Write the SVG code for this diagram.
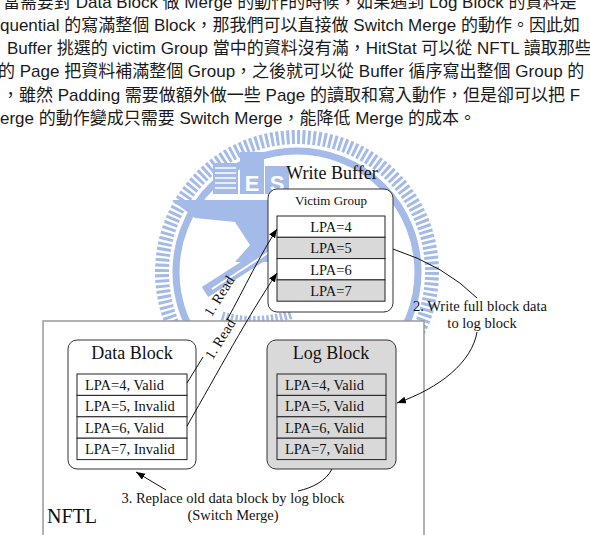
<svg xmlns="http://www.w3.org/2000/svg" width="590" height="535" viewBox="0 0 590 535">
<style>
.para{font-family:"Liberation Sans","Noto Sans CJK TC",sans-serif;font-size:17px;fill:#1a1a1a}
.serif{font-family:"Liberation Serif","Times New Roman",serif;fill:#111}
.t18{font-size:18px}
.t14{font-size:14.5px}
.t13{font-size:13px}
.box{fill:#fff;stroke:#333;stroke-width:1}
.gbox{fill:#d9d9d9;stroke:#333;stroke-width:1}
.row{fill:#fff;stroke:#222;stroke-width:1}
.grow{fill:#d9d9d9;stroke:#222;stroke-width:1}
.edge{fill:none;stroke:#111;stroke-width:1}
.wm{fill:#a4bae8}
.wms{fill:none;stroke:#a4bae8}
</style>
<defs>
<marker id="arr" markerUnits="userSpaceOnUse" markerWidth="10" markerHeight="8" refX="9" refY="3.5" orient="auto">
<path d="M0,0 L9,3.5 L0,7 z" fill="#000"/>
</marker>
</defs>
<rect width="590" height="535" fill="#fff"/>
<g id="watermark">
<circle class="wms" cx="297" cy="272" r="135" stroke-width="14" stroke-dasharray="3 2.3"/>
<circle class="wms" cx="297" cy="272" r="121" stroke-width="7"/>
<rect class="wm" x="213" y="163" width="25" height="31"/>
<g stroke="#fff" stroke-width="1.5"><line x1="215" y1="168" x2="236" y2="168"/><line x1="215" y1="173" x2="236" y2="173"/><line x1="215" y1="178" x2="236" y2="178"/><line x1="215" y1="183" x2="236" y2="183"/><line x1="215" y1="188" x2="236" y2="188"/></g>
<rect class="wm" x="240" y="152" width="24" height="42"/>
<rect class="wm" x="265" y="166" width="24" height="28"/>
<text x="252" y="191" font-family="Liberation Sans,sans-serif" font-size="22" font-weight="bold" fill="#fff" text-anchor="middle">E</text>
<text x="277" y="191" font-family="Liberation Sans,sans-serif" font-size="22" font-weight="bold" fill="#fff" text-anchor="middle">S</text>
<path class="wm" d="M172,200 L335,200 L330,216 L300,222 L285,245 L300,262 L235,262 L250,245 L235,222 L195,218 Z"/>
<path class="wms" d="M205,292 L330,212" stroke-width="12"/>
<path d="M212,289 L325,216" stroke="#fff" stroke-width="2" fill="none"/>
<path class="wms" d="M222,316 Q255,326 292,314" stroke-width="9" stroke-dasharray="2.5 2"/>
</g>
<g id="paragraph" class="para">
<text x="3" y="8">當需要對 Data Block 做 Merge 的動作的時候，如果遇到 Log Block 的資料是</text>
<text x="0" y="31">quential 的寫滿整個 Block，那我們可以直接做 Switch Merge 的動作。因此如</text>
<text x="7" y="54">Buffer 挑選的 victim Group 當中的資料沒有滿，HitStat 可以從 NFTL 讀取那些</text>
<text x="-2" y="77">的 Page 把資料補滿整個 Group，之後就可以從 Buffer 循序寫出整個 Group 的</text>
<text x="2" y="101">，雖然 Padding 需要做額外做一些 Page 的讀取和寫入動作，但是卻可以把 F</text>
<text x="0" y="124">erge 的動作變成只需要 Switch Merge，能降低 Merge 的成本。</text>
</g>
<g id="nftl">
<rect x="43" y="321" width="381" height="230" fill="#fff" stroke="#999" stroke-width="1.5"/>
<text class="serif" x="47" y="523" font-size="20">NFTL</text>
</g>
<g id="write-buffer">
<text class="serif t18" x="332" y="179" text-anchor="middle">Write Buffer</text>
<rect class="box" x="268" y="189" width="125" height="123" rx="9"/>
<text class="serif t13" x="331" y="205" text-anchor="middle">Victim Group</text>
<rect class="row" x="277" y="216" width="108" height="21.3"/>
<rect class="grow" x="277" y="237.3" width="108" height="21.3"/>
<rect class="row" x="277" y="258.6" width="108" height="21.3"/>
<rect class="grow" x="277" y="279.9" width="108" height="21.3"/>
<text class="serif t14" x="331" y="232" text-anchor="middle">LPA=4</text>
<text class="serif t14" x="331" y="253.3" text-anchor="middle">LPA=5</text>
<text class="serif t14" x="331" y="274.6" text-anchor="middle">LPA=6</text>
<text class="serif t14" x="331" y="295.9" text-anchor="middle">LPA=7</text>
</g>
<g id="data-block">
<rect class="box" x="68" y="340" width="128" height="129" rx="9"/>
<text class="serif t18" x="132" y="359" text-anchor="middle">Data Block</text>
<rect class="row" x="77" y="374" width="110" height="21.4"/>
<rect class="row" x="77" y="395.4" width="110" height="21.4"/>
<rect class="row" x="77" y="416.8" width="110" height="21.4"/>
<rect class="row" x="77" y="438.2" width="110" height="21.4"/>
<text class="serif t14" x="85" y="390">LPA=4, Valid</text>
<text class="serif t14" x="85" y="411.4">LPA=5, Invalid</text>
<text class="serif t14" x="85" y="432.8">LPA=6, Valid</text>
<text class="serif t14" x="85" y="454.2">LPA=7, Invalid</text>
</g>
<g id="log-block">
<rect class="gbox" x="267" y="340" width="129" height="129" rx="9"/>
<text class="serif t18" x="331" y="359" text-anchor="middle">Log Block</text>
<rect class="grow" x="277" y="374" width="109" height="21.4"/>
<rect class="grow" x="277" y="395.4" width="109" height="21.4"/>
<rect class="grow" x="277" y="416.8" width="109" height="21.4"/>
<rect class="grow" x="277" y="438.2" width="109" height="21.4"/>
<text class="serif t14" x="285" y="390">LPA=4, Valid</text>
<text class="serif t14" x="285" y="411.4">LPA=5, Valid</text>
<text class="serif t14" x="285" y="432.8">LPA=6, Valid</text>
<text class="serif t14" x="285" y="454.2">LPA=7, Valid</text>
</g>
<g id="connectors">
<path class="edge" d="M187,383 L203,357 M227,320 C245,287 260,255 277,229" marker-end="url(#arr)"/>
<path class="edge" d="M187,426 C218,372 248,316 277,273" marker-end="url(#arr)"/>
<path class="edge" d="M393,249 Q445,266 477,298"/>
<path class="edge" d="M477,332 C472,362 440,388 397,403" marker-end="url(#arr)"/>
<path class="edge" d="M332,469 C326,481 312,488 298,491"/>
<path class="edge" d="M166,490 L136,472" marker-end="url(#arr)"/>
<g class="serif t14">
<text transform="translate(219,296) rotate(-58)" y="5" text-anchor="middle">1. Read</text>
<text transform="translate(220,339) rotate(-58)" y="5" text-anchor="middle">1. Read</text>
<text x="480" y="311" text-anchor="middle">2. Write full block data</text>
<text x="482" y="328" text-anchor="middle">to log block</text>
<text x="233" y="503" text-anchor="middle">3. Replace old data block by log block</text>
<text x="233" y="520" text-anchor="middle">(Switch Merge)</text>
</g>
</g>
</svg>
